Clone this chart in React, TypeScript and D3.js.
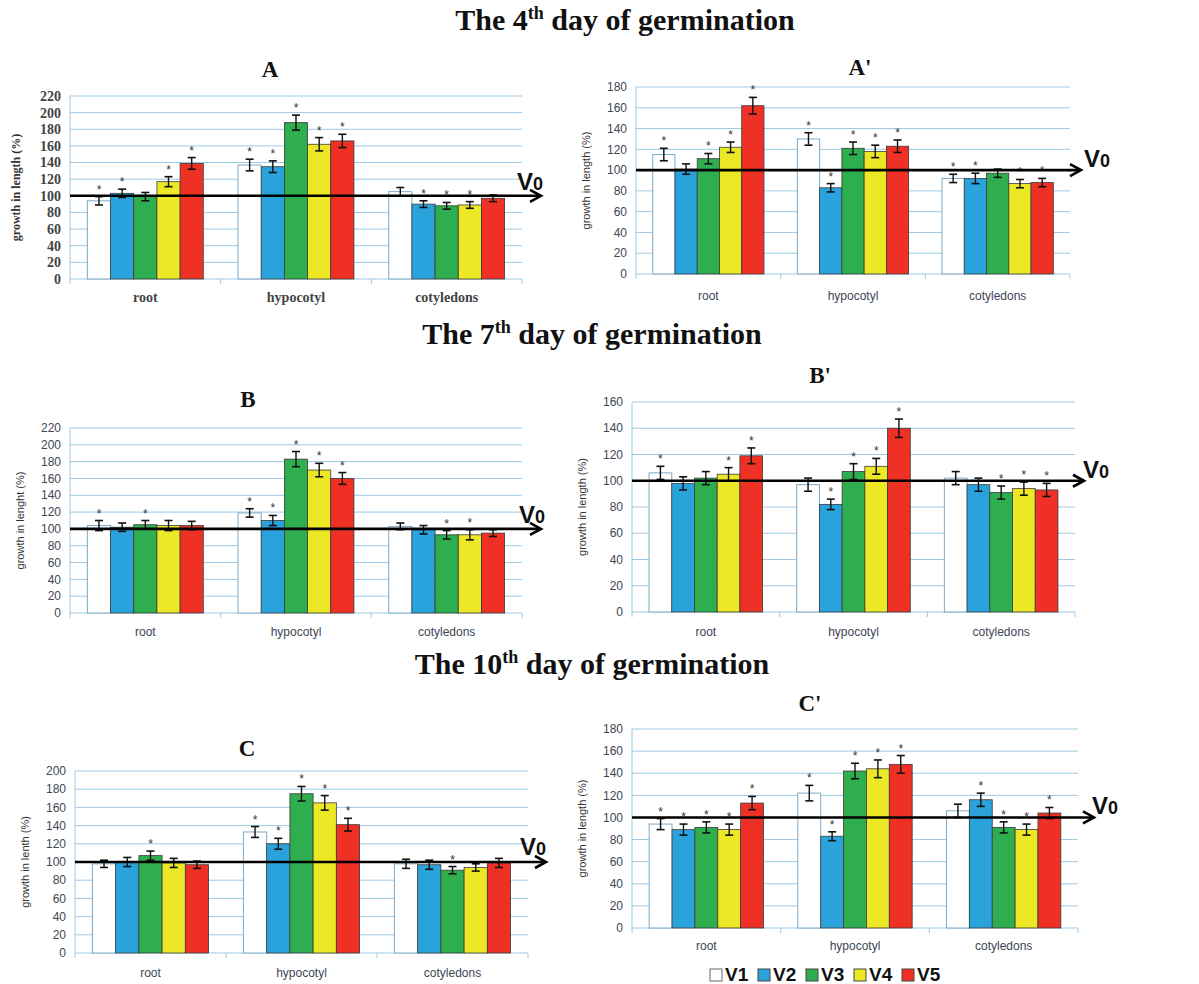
import React from "react";
import * as d3 from "d3";

// categories / series
const CATEGORIES = ["root", "hypocotyl", "cotyledons"];
const SERIES = ["V1", "V2", "V3", "V4", "V5"];
const COLORS = ["#ffffff", "#2aa3dd", "#2eae4e", "#ece825", "#ee3124"];

// panel A (4th day)
const A_VALUES = [[94, 103, 99, 117, 139], [137, 135, 188, 162, 166], [105, 90, 88, 89, 97]];
const A_ERRORS = [[5, 5, 5, 6, 7], [7, 7, 9, 8, 8], [5, 4, 4, 4, 4]];
const A_SIG = [[1, 1, 0, 1, 1], [1, 1, 1, 1, 1], [0, 1, 1, 1, 0]];

// panel A'
const A2_VALUES = [[115, 101, 111, 122, 162], [130, 83, 121, 118, 123], [92, 92, 97, 87, 88]];
const A2_ERRORS = [[6, 5, 5, 5, 8], [6, 4, 6, 6, 6], [4, 5, 4, 4, 4]];
const A2_SIG = [[1, 0, 1, 1, 1], [1, 1, 1, 1, 1], [1, 1, 0, 1, 1]];

// panel B (7th day)
const B_VALUES = [[104, 102, 105, 104, 104], [119, 110, 183, 170, 160], [103, 99, 93, 93, 95]];
const B_ERRORS = [[6, 5, 5, 6, 5], [5, 6, 9, 8, 7], [4, 5, 5, 6, 4]];
const B_SIG = [[1, 0, 1, 0, 0], [1, 1, 1, 1, 1], [0, 0, 1, 1, 0]];

// panel B'
const B2_VALUES = [[106, 98, 102, 105, 119], [97, 82, 107, 111, 140], [102, 97, 91, 94, 93]];
const B2_ERRORS = [[5, 5, 5, 5, 6], [5, 4, 6, 6, 7], [5, 5, 5, 5, 5]];
const B2_SIG = [[1, 0, 0, 1, 1], [0, 1, 1, 1, 1], [0, 0, 1, 1, 1]];

// panel C (10th day)
const C_VALUES = [[98, 100, 107, 99, 97], [133, 120, 175, 165, 141], [98, 97, 91, 94, 99]];
const C_ERRORS = [[4, 5, 5, 5, 4], [6, 6, 8, 8, 7], [5, 5, 4, 4, 5]];
const C_SIG = [[0, 0, 1, 0, 0], [1, 1, 1, 1, 1], [0, 0, 1, 0, 0]];

// panel C'
const C2_VALUES = [[94, 89, 91, 89, 113], [122, 83, 142, 144, 148], [106, 116, 91, 89, 104]];
const C2_ERRORS = [[5, 5, 5, 5, 6], [7, 4, 7, 8, 8], [6, 6, 5, 5, 5]];
const C2_SIG = [[1, 1, 1, 1, 1], [1, 1, 1, 1, 1], [0, 1, 1, 1, 1]];

const SERIF = "'Liberation Serif', 'DejaVu Serif', serif";
const SANS = "'Liberation Sans', Arial, sans-serif";
const GRID = "#9cc9e6";

type PanelProps = {
  title: string; titleX: number; titleY: number;
  values: number[][]; errors: number[][]; sig: number[][];
  yMax: number; x0: number; x1: number; yTop: number; yBot: number;
  yLabel: string; serif?: boolean; xLabelY: number;
  arrowEnd: number; v0x: number; v0dy: number;
};

function Panel(p: PanelProps) {
  const x = d3.scaleBand<string>().domain(CATEGORIES).range([p.x0, p.x1]);
  const xs = d3.scaleBand<string>().domain(SERIES).range([0, x.bandwidth()]).paddingOuter(0.75);
  const y = d3.scaleLinear().domain([0, p.yMax]).range([p.yBot, p.yTop]);
  const ticks = d3.range(0, p.yMax + 1, 20);
  const font = p.serif ? SERIF : SANS;
  const tickColor = p.serif ? "#444" : "#3c4654";
  const v0 = y(100);
  return (
    <g>
      <text x={p.titleX} y={p.titleY} textAnchor="middle" fontFamily={SERIF} fontWeight="bold" fontSize={23} fill="#111">{p.title}</text>
      {ticks.map(t => (
        <g key={t}>
          <line x1={p.x0} x2={p.x1} y1={y(t)} y2={y(t)} stroke={GRID} strokeWidth={1} />
          <text x={p.x0 - 9} y={y(t)} dy="0.35em" textAnchor="end" fontFamily={font} fontWeight={p.serif ? "bold" : "normal"} fontSize={p.serif ? 14 : 12} fill={tickColor}>{t}</text>
        </g>
      ))}
      <line x1={p.x0} x2={p.x0} y1={p.yTop} y2={p.yBot} stroke={GRID} />
      {[0, 1, 2, 3].map(i => (
        <line key={i} x1={p.x0 + i * x.bandwidth()} x2={p.x0 + i * x.bandwidth()} y1={p.yBot} y2={p.yBot + 5} stroke={GRID} />
      ))}
      <text transform={`translate(${p.x0 - (p.serif ? 50 : 46)},${(p.yTop + p.yBot) / 2}) rotate(-90)`} textAnchor="middle" fontFamily={font} fontWeight={p.serif ? "bold" : "normal"} fontSize={p.serif ? 12 : 11} fill="#333">{p.yLabel}</text>
      {CATEGORIES.map((c, ci) => (
        <g key={c}>
          {SERIES.map((s, si) => {
            const v = p.values[ci][si];
            const e = p.errors[ci][si];
            const bx = (x(c) as number) + (xs(s) as number);
            const bw = xs.bandwidth();
            const cx = bx + bw / 2;
            return (
              <g key={s}>
                <rect x={bx} y={y(v)} width={bw} height={p.yBot - y(v)} fill={COLORS[si]} stroke={si === 0 ? "#7fa9c6" : "#3a3a3a"} strokeWidth={si === 0 ? 1 : 0.8} />
                <line x1={cx} x2={cx} y1={y(v + e)} y2={y(v - e)} stroke="#111" strokeWidth={1.4} />
                <line x1={cx - 4} x2={cx + 4} y1={y(v + e)} y2={y(v + e)} stroke="#111" strokeWidth={1.6} />
                <line x1={cx - 4} x2={cx + 4} y1={y(v - e)} y2={y(v - e)} stroke="#111" strokeWidth={1.6} />
                {p.sig[ci][si] ? (
                  <text x={cx} y={y(v + e) - 3} textAnchor="middle" fontFamily={SANS} fontSize={12} fill="#333">*</text>
                ) : null}
              </g>
            );
          })}
          <text x={(x(c) as number) + x.bandwidth() / 2} y={p.xLabelY} textAnchor="middle" fontFamily={font} fontWeight={p.serif ? "bold" : "normal"} fontSize={p.serif ? 14 : 12} fill={tickColor}>{c}</text>
        </g>
      ))}
      <line x1={p.x0} x2={p.arrowEnd - 3} y1={v0} y2={v0} stroke="#000" strokeWidth={2.6} />
      <path d={`M${p.arrowEnd - 11},${v0 - 6} L${p.arrowEnd},${v0} L${p.arrowEnd - 11},${v0 + 6}`} fill="none" stroke="#000" strokeWidth={2.6} />
      <text x={p.v0x} y={v0 + p.v0dy} fontFamily={SANS} fontWeight="bold" fontSize={24} fill="#111">V<tspan fontSize={18}>0</tspan></text>
    </g>
  );
}

function DayTitle({ day, cx, y }: { day: string; cx: number; y: number }) {
  return (
    <text x={cx} y={y} textAnchor="middle" fontFamily={SERIF} fontWeight="bold" fontSize={30} fill="#111">
      The {day}<tspan dy={-11} fontSize={18}>th</tspan><tspan dy={11}> day of germination</tspan>
    </text>
  );
}

export default function App() {
  return (
    <svg width={1199} height={984} style={{ position: "absolute", left: 0, top: 0, background: "#fff" }}>
      <rect width={1199} height={984} fill="#fff" />
      <DayTitle day="4" cx={625} y={30} />
      <DayTitle day="7" cx={592} y={344} />
      <DayTitle day="10" cx={592} y={674} />

      <Panel title="A" titleX={270} titleY={77} values={A_VALUES} errors={A_ERRORS} sig={A_SIG} yMax={220}
        x0={70} x1={522} yTop={96} yBot={279} yLabel="growth in length (%)" serif xLabelY={302}
        arrowEnd={541} v0x={517} v0dy={-6} />
      <Panel title="A'" titleX={860} titleY={75} values={A2_VALUES} errors={A2_ERRORS} sig={A2_SIG} yMax={180}
        x0={636} x1={1070} yTop={87} yBot={274} yLabel="growth in length (%)" xLabelY={300}
        arrowEnd={1081} v0x={1084} v0dy={-3} />
      <Panel title="B" titleX={248} titleY={407} values={B_VALUES} errors={B_ERRORS} sig={B_SIG} yMax={220}
        x0={70} x1={522} yTop={428} yBot={613} yLabel="growth in lenght (%)" xLabelY={636}
        arrowEnd={541} v0x={519} v0dy={-6} />
      <Panel title="B'" titleX={820} titleY={383} values={B2_VALUES} errors={B2_ERRORS} sig={B2_SIG} yMax={160}
        x0={632} x1={1075} yTop={402} yBot={612} yLabel="growth in length (%)" xLabelY={636}
        arrowEnd={1084} v0x={1083} v0dy={-3} />
      <Panel title="C" titleX={247} titleY={756} values={C_VALUES} errors={C_ERRORS} sig={C_SIG} yMax={200}
        x0={75} x1={528} yTop={771} yBot={953} yLabel="growth in lenth (%)" xLabelY={977}
        arrowEnd={546} v0x={520} v0dy={-7} />
      <Panel title="C'" titleX={810} titleY={711} values={C2_VALUES} errors={C2_ERRORS} sig={C2_SIG} yMax={180}
        x0={632} x1={1078} yTop={729} yBot={928} yLabel="growth in length (%)" xLabelY={950}
        arrowEnd={1094} v0x={1092} v0dy={-3} />

      {SERIES.map((s, i) => (
        <g key={s} transform={`translate(${710 + i * 48},966)`}>
          <rect x={0} y={3} width={12} height={12} fill={COLORS[i]} stroke={i === 0 ? "#666" : "#444"} strokeWidth={1} />
          <text x={15} y={15} fontFamily={SANS} fontWeight="bold" fontSize={19} fill="#111">{s}</text>
        </g>
      ))}
    </svg>
  );
}
